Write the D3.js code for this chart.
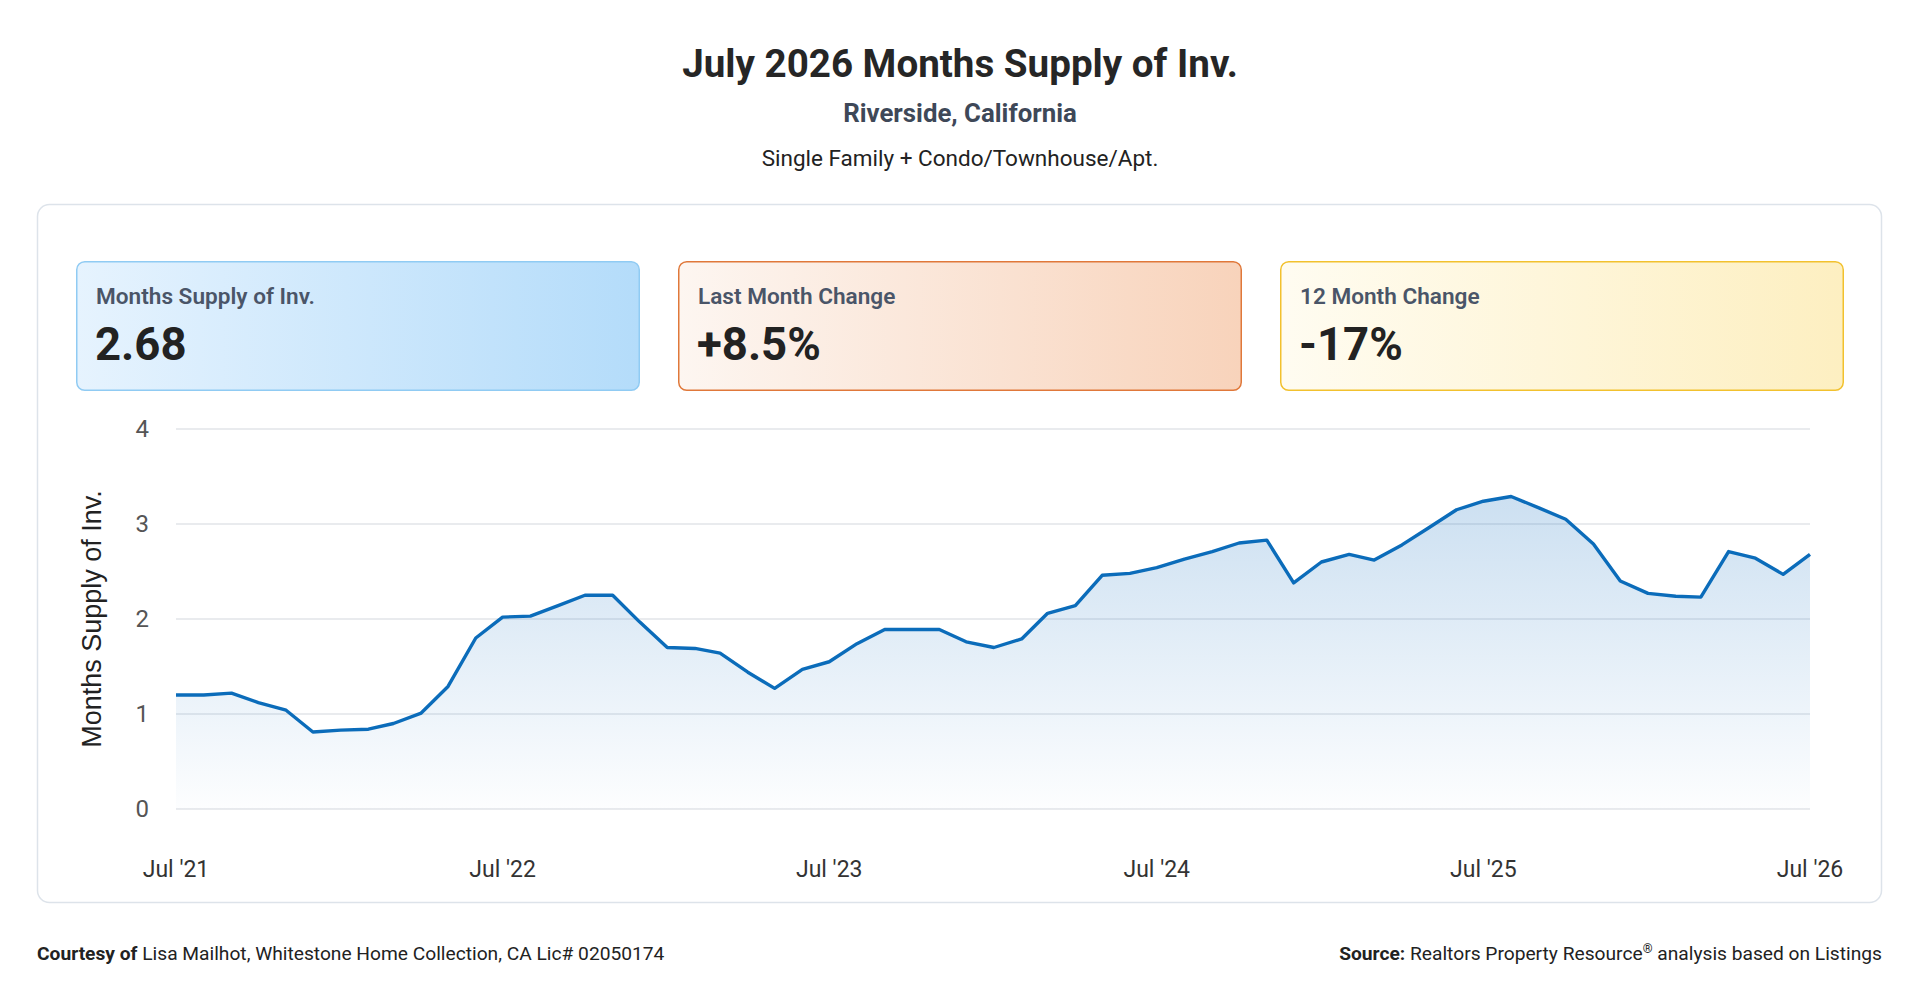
<!DOCTYPE html>
<html lang="en">
<head>
<meta charset="UTF-8" />
<title>July 2026 Months Supply of Inv.</title>
<script src="https://d3js.org/d3.v7.min.js"></script>
<style>
  html, body { margin: 0; padding: 0; background: #fff; }
  svg { display: block; font-family: Roboto, "Open Sans", sans-serif; }
</style>
</head>
<body>
<div id="chart"></div>
<script>
// months Jul '21 .. Jul '26 (61 points)
const months = d3.timeMonth.range(new Date(2021, 6, 1), new Date(2026, 7, 1));
const supply = [
  1.20, 1.20, 1.22, 1.12, 1.04, 0.81, 0.83, 0.84, 0.90, 1.01, 1.29, 1.80,
  2.02, 2.03, 2.14, 2.25, 2.25, 1.97, 1.70, 1.69, 1.64, 1.44, 1.27, 1.47,
  1.55, 1.74, 1.89, 1.89, 1.89, 1.76, 1.70, 1.79, 2.06, 2.14, 2.46, 2.48,
  2.54, 2.63, 2.71, 2.80, 2.83, 2.38, 2.60, 2.68, 2.62, 2.78, 2.96, 3.15,
  3.24, 3.29, 3.17, 3.05, 2.79, 2.40, 2.27, 2.24, 2.23, 2.71, 2.64, 2.47,
  2.68
];
const yTicks = [0, 1, 2, 3, 4];
const xTickLabels = ["Jul '21", "Jul '22", "Jul '23", "Jul '24", "Jul '25", "Jul '26"];

const kpiLabels = ["Months Supply of Inv.", "Last Month Change", "12 Month Change"];
const kpiValues = ["2.68", "+8.5%", "-17%"];
const kpiColors = [
  { from: "#e6f3fe", to: "#b4dcfa", border: "#90cbf3" },
  { from: "#fdf6f1", to: "#f8d3bb", border: "#e0783a" },
  { from: "#fffcf1", to: "#fdefc1", border: "#f2c12e" }
];

const width = 1920, height = 1007;
const margin = { top: 429, right: 110, bottom: 198, left: 176 };

const svg = d3.select("#chart").append("svg")
  .attr("width", width)
  .attr("height", height);

const defs = svg.append("defs");

// header
svg.append("text")
  .attr("x", width / 2).attr("y", 77)
  .attr("text-anchor", "middle")
  .attr("font-size", 38.6).attr("font-weight", 700).attr("fill", "#262626")
  .text("July 2026 Months Supply of Inv.");
svg.append("text")
  .attr("x", width / 2).attr("y", 122)
  .attr("text-anchor", "middle")
  .attr("font-size", 25.8).attr("font-weight", 700).attr("fill", "#3e4858")
  .text("Riverside, California");
svg.append("text")
  .attr("x", width / 2).attr("y", 166)
  .attr("text-anchor", "middle")
  .attr("font-size", 22.5).attr("fill", "#222")
  .text("Single Family + Condo/Townhouse/Apt.");

// card
svg.append("rect")
  .attr("x", 37.5).attr("y", 204.5)
  .attr("width", 1844).attr("height", 698)
  .attr("rx", 12)
  .attr("fill", "#fff")
  .attr("stroke", "#dde3ea").attr("stroke-width", 1.5);

// KPI boxes
const boxW = 564, boxH = 130, boxGap = 38, boxX0 = 76, boxY = 261;
kpiLabels.forEach((label, i) => {
  const c = kpiColors[i];
  const gid = "kpiGrad" + i;
  const grad = defs.append("linearGradient").attr("id", gid)
    .attr("x1", "0%").attr("x2", "100%").attr("y1", "0%").attr("y2", "0%");
  grad.append("stop").attr("offset", "0%").attr("stop-color", c.from);
  grad.append("stop").attr("offset", "100%").attr("stop-color", c.to);

  const bx = boxX0 + i * (boxW + boxGap);
  const g = svg.append("g").attr("transform", `translate(${bx},${boxY})`);
  g.append("rect")
    .attr("x", 0.75).attr("y", 0.75)
    .attr("width", boxW - 1.5).attr("height", boxH - 1.5)
    .attr("rx", 8)
    .attr("fill", `url(#${gid})`)
    .attr("stroke", c.border).attr("stroke-width", 1.5);
  g.append("text")
    .attr("x", 20).attr("y", 43)
    .attr("font-size", 22.6).attr("font-weight", 600).attr("fill", "#4a5568")
    .text(label);
  g.append("text")
    .attr("x", 19).attr("y", 99)
    .attr("font-size", 45.5).attr("font-weight", 700).attr("fill", "#222")
    .text(kpiValues[i]);
});

// chart
const x = d3.scaleTime()
  .domain(d3.extent(months))
  .range([margin.left, width - margin.right]);
const y = d3.scaleLinear()
  .domain([0, 4])
  .range([height - margin.bottom, margin.top]);

const data = months.map((m, i) => ({ date: m, value: supply[i] }));

// gridlines
svg.append("g")
  .selectAll("line")
  .data(yTicks)
  .join("line")
  .attr("x1", x.range()[0]).attr("x2", x.range()[1])
  .attr("y1", d => y(d)).attr("y2", d => y(d))
  .attr("stroke", "#e2e4e8").attr("stroke-width", 1.5);

// y tick labels
svg.append("g")
  .selectAll("text")
  .data(yTicks)
  .join("text")
  .attr("x", 149).attr("y", d => y(d))
  .attr("dy", "0.35em")
  .attr("text-anchor", "end")
  .attr("font-size", 24).attr("fill", "#555")
  .text(d => d);

// y axis title
svg.append("text")
  .attr("transform", `translate(101,${(y(0) + y(4)) / 2}) rotate(-90)`)
  .attr("text-anchor", "middle")
  .attr("font-family", "'Liberation Sans', Arial, sans-serif")
  .attr("font-size", 27).attr("fill", "#222")
  .text("Months Supply of Inv.");

// x axis labels, one per July
const julys = months.filter(d => d.getMonth() === 6);
svg.append("g")
  .selectAll("text")
  .data(julys)
  .join("text")
  .attr("x", d => x(d)).attr("y", 877)
  .attr("text-anchor", "middle")
  .attr("font-size", 23).attr("fill", "#333")
  .text((d, i) => xTickLabels[i]);

// area fill
const areaGrad = defs.append("linearGradient").attr("id", "areaGrad")
  .attr("gradientUnits", "userSpaceOnUse")
  .attr("x1", 0).attr("x2", 0)
  .attr("y1", y(3.3)).attr("y2", y(0));
areaGrad.append("stop").attr("offset", "0%").attr("stop-color", "#1670c0").attr("stop-opacity", 0.22);
areaGrad.append("stop").attr("offset", "100%").attr("stop-color", "#1670c0").attr("stop-opacity", 0.01);

svg.append("path")
  .datum(data)
  .attr("fill", "url(#areaGrad)")
  .attr("d", d3.area()
    .x(d => x(d.date))
    .y0(y(0))
    .y1(d => y(d.value)));

svg.append("path")
  .datum(data)
  .attr("fill", "none")
  .attr("stroke", "#0b6cba")
  .attr("stroke-width", 3.4)
  .attr("stroke-linejoin", "round")
  .attr("d", d3.line()
    .x(d => x(d.date))
    .y(d => y(d.value)));

// footer
const left = svg.append("text")
  .attr("x", 37).attr("y", 960)
  .attr("font-size", 19.2).attr("fill", "#222");
left.append("tspan").attr("font-weight", 700).text("Courtesy of ");
left.append("tspan").text("Lisa Mailhot, Whitestone Home Collection, CA Lic# 02050174");

const right = svg.append("text")
  .attr("x", 1882).attr("y", 960)
  .attr("text-anchor", "end")
  .attr("font-size", 19.2).attr("fill", "#222");
right.append("tspan").attr("font-weight", 700).text("Source: ");
right.append("tspan").text("Realtors Property Resource");
right.append("tspan").attr("font-size", 12.5).attr("dy", -7).text("®");
right.append("tspan").attr("dy", 7).text(" analysis based on Listings");
</script>
</body>
</html>
